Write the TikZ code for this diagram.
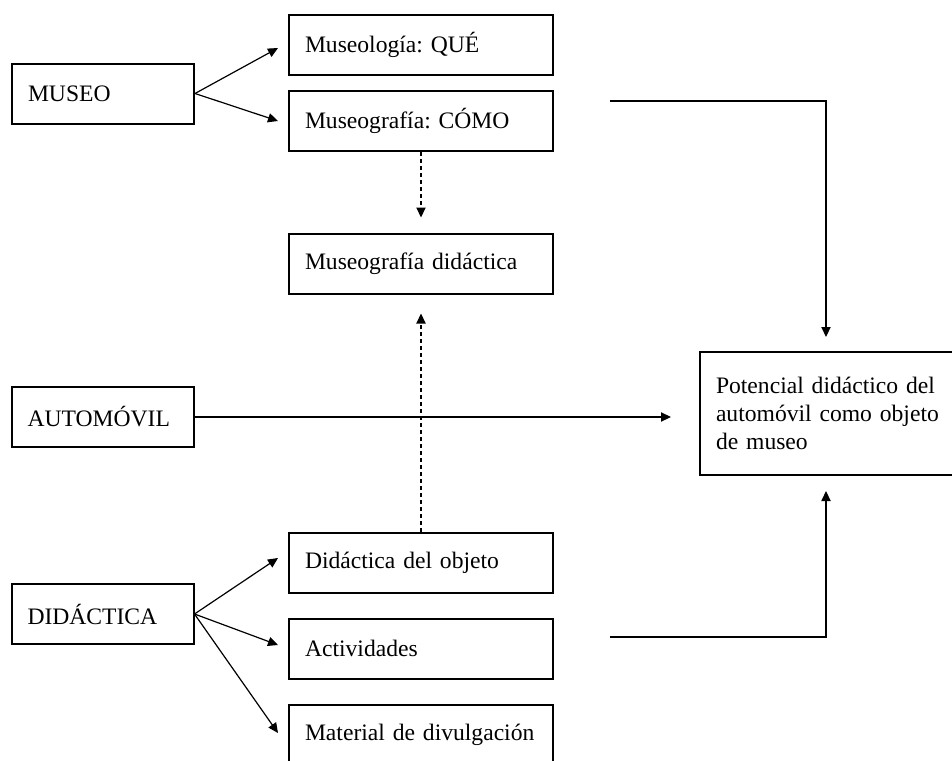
\documentclass[tikz,border=0pt]{standalone}
\usepackage{fontspec}
\setmainfont{Liberation Serif}
\usetikzlibrary{arrows.meta, calc, positioning}
\newcommand\boxfont{\fontsize{11.8pt}{14pt}\selectfont\frenchspacing\hyphenpenalty=10000\relax\exhyphenpenalty=10000\relax}

\begin{document}
\begin{tikzpicture}[
  x=0.5pt, y=-0.5pt,
  box/.style={draw, line width=1pt, minimum height=30pt, inner xsep=8pt, text width=75pt, align=left, font=\boxfont},
  wbox/.style={box, text width=116pt},
  link/.style={draw, line width=0.6pt, -{Triangle[length=5pt,width=4.6pt]}},
  dlink/.style={link, dash pattern=on 2pt off 1.5pt}
]
\useasboundingbox (0,0) rectangle (952,760);

% left column
\node[box] (museo) at (103,93.5) {MUSEO};
\node[box] (auto) at (102.5,417) {AUTOMÓVIL};
\node[box] (didac) at (102.5,614) {DIDÁCTICA};

% middle column
\node[wbox] (quee) at (421,45) {Museología: QUÉ};
\node[wbox] (como) at (421,121) {Museografía: CÓMO};
\node[wbox] (mdid) at (421,263.5) {Museografía didáctica};
\node[wbox] (dobj) at (421,562.5) {Didáctica del objeto};
\node[wbox] (activ) at (421,648.5) {Actividades};
\node[wbox] (mat) at (421,734.5) {Material de divulgación};

% result (runs past the right edge)
\node[box, minimum height=61.5pt, text width=120pt] (pot) at (836,413.5)
  {Potencial didáctico del\\automóvil como objeto\\de museo};

% connectors
\draw[link] (museo.east) -- ($(quee.west)+(-10,3)$);
\draw[link] (museo.east) -- ($(como.west)+(-10,0)$);
\draw[link] (didac.east) -- ($(dobj.west)+(-10,-4.5)$);
\draw[link] (didac.east) -- ($(activ.west)+(-10,-3.5)$);
\draw[link] (didac.east) -- ($(mat.west)+(-10,-1.5)$);

\draw[dlink] (como.south) -- ($(mdid.north)+(0,-15)$);
\draw[dlink] (dobj.north) -- ($(mdid.south)+(0,19)$);

\coordinate (c1) at (610,101);
\coordinate (c2) at (610,637);
\draw[link] (c1) -| ($(pot.north)+(-10,-14)$);
\draw[link] (c2) -| ($(pot.south)+(-10,15)$);
\draw[link] (auto.east) -- ($(auto.east -| pot.west)+(-28,0)$);
\end{tikzpicture}
\end{document}
